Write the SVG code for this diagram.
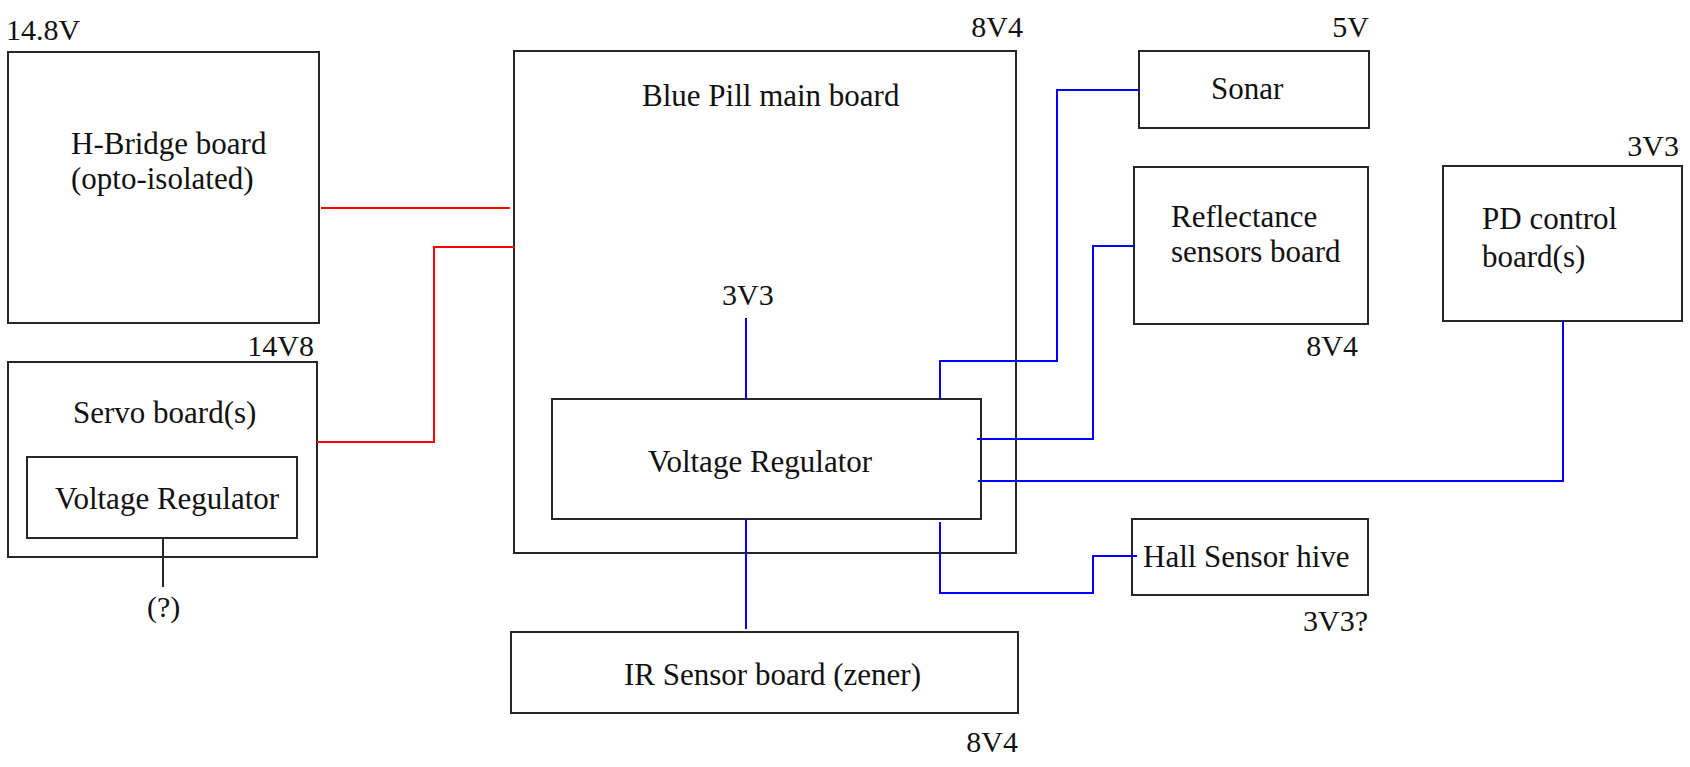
<svg xmlns="http://www.w3.org/2000/svg" width="1690" height="767" viewBox="0 0 1690 767">
<style>
  .box { fill: #ffffff; stroke: #262626; stroke-width: 2; }
  .lbl { font-family: "Liberation Serif", "Times New Roman", serif; font-size: 31px; fill: #111111; }
  .volt { font-family: "Liberation Serif", "Times New Roman", serif; font-size: 30px; fill: #111111; }
  .end { text-anchor: end; }
  .red { fill: none; stroke: #ff0000; stroke-width: 2; }
  .blue { fill: none; stroke: #0000ff; stroke-width: 2; }
  .blk { fill: none; stroke: #262626; stroke-width: 2; }
</style>
<rect x="0" y="0" width="1690" height="767" fill="#ffffff"/>

<g id="hbridge">
  <rect class="box" x="8" y="52" width="311" height="271"/>
  <text class="volt" x="6" y="40">14.8V</text>
  <text class="lbl" x="71" y="154">H-Bridge board</text>
  <text class="lbl" x="71" y="189">(opto-isolated)</text>
</g>

<g id="servo">
  <rect class="box" x="8" y="362" width="309" height="195"/>
  <text class="volt end" x="314" y="356">14V8</text>
  <text class="lbl" x="73" y="423">Servo board(s)</text>
  <g id="servo-regulator">
    <rect class="box" x="27" y="457" width="270" height="81"/>
    <text class="lbl" x="55" y="509">Voltage Regulator</text>
  </g>
</g>

<g id="servo-unknown">
  <text class="volt" x="147" y="617">(?)</text>
</g>

<g id="bluepill">
  <rect class="box" x="514" y="51" width="502" height="502"/>
  <text class="volt end" x="1023" y="37">8V4</text>
  <text class="lbl" x="642" y="106">Blue Pill main board</text>
  <text class="volt" x="722" y="305">3V3</text>
</g>

<g id="main-regulator">
  <rect class="box" x="552" y="399" width="429" height="120"/>
  <text class="lbl" x="648" y="472">Voltage Regulator</text>
</g>

<g id="ir">
  <rect class="box" x="511" y="632" width="507" height="81"/>
  <text class="lbl" x="624" y="685">IR Sensor board (zener)</text>
  <text class="volt end" x="1018" y="752">8V4</text>
</g>

<g id="sonar">
  <rect class="box" x="1139" y="51" width="230" height="77"/>
  <text class="volt end" x="1369" y="37">5V</text>
  <text class="lbl" x="1211" y="99">Sonar</text>
</g>

<g id="reflectance">
  <rect class="box" x="1134" y="167" width="234" height="157"/>
  <text class="lbl" x="1171" y="227">Reflectance</text>
  <text class="lbl" x="1171" y="262">sensors board</text>
  <text class="volt end" x="1358" y="356">8V4</text>
</g>

<g id="pd">
  <rect class="box" x="1443" y="166" width="239" height="155"/>
  <text class="volt end" x="1679" y="156">3V3</text>
  <text class="lbl" x="1482" y="229">PD control</text>
  <text class="lbl" x="1482" y="267">board(s)</text>
</g>

<g id="hall">
  <rect class="box" x="1132" y="519" width="236" height="76"/>
  <text class="lbl" x="1143" y="567">Hall Sensor hive</text>
  <text class="volt end" x="1368" y="631">3V3?</text>
</g>

<g id="connectors">
  <path class="red" d="M321,208 H510"/>
  <path class="red" d="M317,442 H434 V247 H515"/>
  <path class="blk" d="M163,538 V587"/>
  <path class="blue" d="M746,318 V399"/>
  <path class="blue" d="M746,519 V629"/>
  <path class="blue" d="M940,399 V361 H1057 V90 H1139"/>
  <path class="blue" d="M977,439 H1093 V246 H1134"/>
  <path class="blue" d="M978,481 H1563 V321"/>
  <path class="blue" d="M940,522 V593 H1093 V556 H1137"/>
</g>
</svg>
